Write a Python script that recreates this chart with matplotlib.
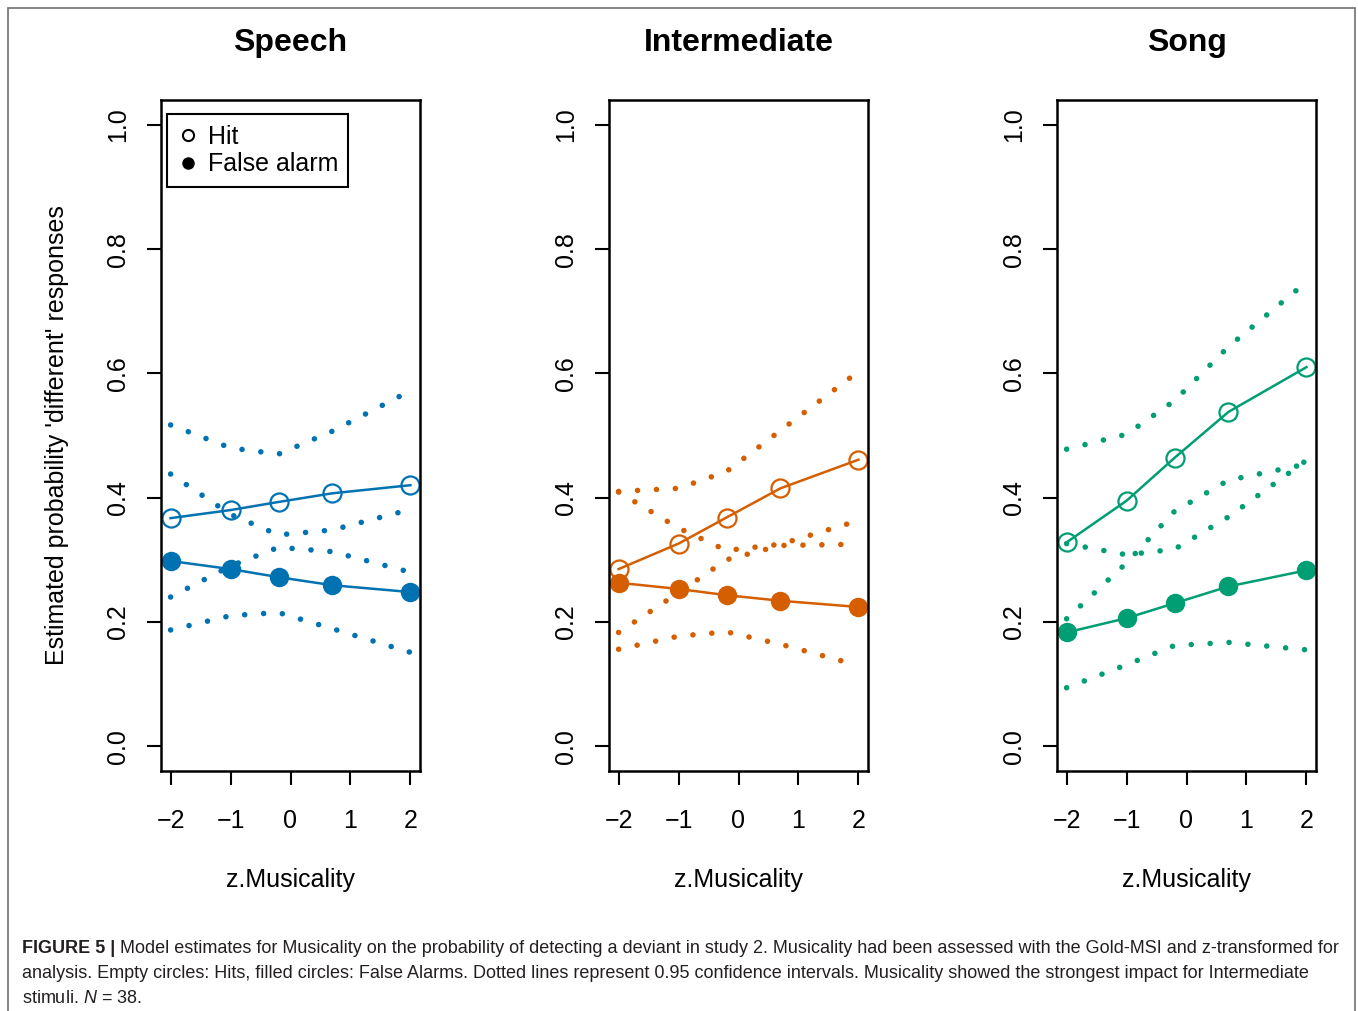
import matplotlib.pyplot as plt
from matplotlib.lines import Line2D
from matplotlib.patches import Rectangle

plt.rcParams["font.family"] = ["Liberation Sans", "DejaVu Sans"]
plt.rcParams["mathtext.fontset"] = "custom"
plt.rcParams["mathtext.rm"] = "Liberation Sans"
plt.rcParams["mathtext.it"] = "Liberation Sans:italic"

# Musicality (z-scored) values where the model was evaluated
z_musicality = [-2, -1, -0.2, 0.7, 2]

panel_titles = ["Speech", "Intermediate", "Song"]
panel_colors = ["#0072B2", "#D55E00", "#009E73"]

# Speech
hit_speech = [0.367, 0.380, 0.393, 0.407, 0.420]
hit_speech_lo = [0.240, 0.290, 0.320, 0.313, 0.280]
hit_speech_hi = [0.517, 0.480, 0.470, 0.507, 0.572]
fa_speech = [0.298, 0.285, 0.272, 0.259, 0.248]
fa_speech_lo = [0.187, 0.210, 0.215, 0.189, 0.151]
fa_speech_hi = [0.438, 0.373, 0.340, 0.348, 0.381]

# Intermediate
hit_inter = [0.285, 0.326, 0.368, 0.415, 0.461]
hit_inter_lo = [0.183, 0.247, 0.300, 0.323, 0.325]
hit_inter_hi = [0.410, 0.415, 0.442, 0.508, 0.603]
fa_inter = [0.263, 0.253, 0.243, 0.234, 0.224]
fa_inter_lo = [0.156, 0.177, 0.184, 0.164, 0.130]
fa_inter_hi = [0.409, 0.351, 0.315, 0.325, 0.363]

# Song
hit_song = [0.328, 0.395, 0.464, 0.538, 0.610]
hit_song_lo = [0.205, 0.295, 0.378, 0.428, 0.454]
hit_song_hi = [0.478, 0.502, 0.556, 0.643, 0.747]
fa_song = [0.183, 0.206, 0.230, 0.257, 0.283]
fa_song_lo = [0.094, 0.131, 0.162, 0.167, 0.155]
fa_song_hi = [0.326, 0.308, 0.317, 0.369, 0.460]

panels = [
    (hit_speech, hit_speech_lo, hit_speech_hi, fa_speech, fa_speech_lo, fa_speech_hi),
    (hit_inter, hit_inter_lo, hit_inter_hi, fa_inter, fa_inter_lo, fa_inter_hi),
    (hit_song, hit_song_lo, hit_song_hi, fa_song, fa_song_lo, fa_song_hi),
]

x_ticks = [-2, -1, 0, 1, 2]
y_ticks = [0.0, 0.2, 0.4, 0.6, 0.8, 1.0]

caption_head = "FIGURE 5 |"
caption_lines = [
    "Model estimates for Musicality on the probability of detecting a deviant in study 2. "
    "Musicality had been assessed with the Gold-MSI and z-transformed for",
    "analysis. Empty circles: Hits, filled circles: False Alarms. Dotted lines represent 0.95 "
    "confidence intervals. Musicality showed the strongest impact for Intermediate",
    r"stimuli. $N$ = 38.",
]

W, H = 1358, 1011
fig = plt.figure(figsize=(W / 100, H / 100), dpi=100)

# outer frame of the figure
fig.patches.append(Rectangle((8 / W, -0.02), (1355 - 8) / W, 1 - 8 / H + 0.02,
                             transform=fig.transFigure, fill=False,
                             edgecolor="#6f6f6f", linewidth=1.2))

lefts = [161, 609, 1057]
ax_w = 259
ax_top, ax_bot = 100, 771
dot_style = dict(linestyle=(0, (0.01, 3.4)), dash_capstyle="round", linewidth=4.0)

for i, (left, title, color, data) in enumerate(zip(lefts, panel_titles, panel_colors, panels)):
    hit, hit_lo, hit_hi, fa, fa_lo, fa_hi = data
    ax = fig.add_axes([left / W, 1 - ax_bot / H, ax_w / W, (ax_bot - ax_top) / H])

    for ci in (hit_lo, hit_hi, fa_lo, fa_hi):
        ax.plot(z_musicality, ci, color=color, **dot_style)

    ax.plot(z_musicality, hit, color=color, linewidth=1.8, marker="o", markersize=13,
            markerfacecolor="none", markeredgewidth=1.6)
    ax.plot(z_musicality, fa, color=color, linewidth=1.8, marker="o", markersize=14,
            markerfacecolor=color, markeredgewidth=0)

    ax.set_xlim(-2.16, 2.16)
    ax.set_ylim(-0.04, 1.04)
    ax.set_xticks(x_ticks)
    ax.set_yticks(y_ticks)
    ax.set_xticklabels([f"{t}".replace("-", "\u2212") for t in x_ticks])
    ax.set_yticklabels([f"{t:.1f}" for t in y_ticks], rotation=90, va="center")
    ax.tick_params(axis="both", labelsize=18, length=10, width=1.5, color="black")
    ax.tick_params(axis="x", pad=17)
    ax.tick_params(axis="y", pad=12)
    for sp in ax.spines.values():
        sp.set_linewidth(1.8)
        sp.set_color("black")

    ax.text(0.5, 1 + 57 / 671, title, transform=ax.transAxes, ha="center", va="center",
            fontsize=23, fontweight="bold")
    ax.text(0.5, -109 / 671, "z.Musicality", transform=ax.transAxes, ha="center",
            va="center", fontsize=18)

    if i == 0:
        ax.text(-104 / ax_w, 0.5, "Estimated probability 'different' responses",
                transform=ax.transAxes, rotation=90, ha="center", va="center", fontsize=18)
        handles = [
            Line2D([], [], linestyle="none", marker="o", markersize=8,
                   markerfacecolor="none", markeredgecolor="black", markeredgewidth=1.5,
                   label="Hit"),
            Line2D([], [], linestyle="none", marker="o", markersize=9,
                   markerfacecolor="black", markeredgewidth=0, label="False alarm"),
        ]
        leg = ax.legend(handles=handles, loc="upper left", bbox_to_anchor=(6 / ax_w, 1 - 14 / 671),
                        borderaxespad=0, fancybox=False, framealpha=1, edgecolor="black",
                        fontsize=18, handlelength=0.8, handletextpad=0.4, borderpad=0.42,
                        labelspacing=0.15)
        leg.get_frame().set_linewidth(1.5)

# caption: bold figure number followed by regular text
cap_size = 13
cap_color = "#231f20"
baselines = [953, 978, 1003]
head = fig.text(22 / W, 1 - baselines[0] / H, caption_head, fontsize=cap_size,
                fontweight="bold", color=cap_color, va="baseline")
fig.canvas.draw()
bb = head.get_window_extent(fig.canvas.get_renderer())
fig.text((bb.x1 + 5) / W, 1 - baselines[0] / H, caption_lines[0], fontsize=cap_size,
         color=cap_color, va="baseline")
for line, base in zip(caption_lines[1:], baselines[1:]):
    fig.text(22 / W, 1 - base / H, line, fontsize=cap_size, color=cap_color, va="baseline")

fig.savefig("out.png", dpi=100)
